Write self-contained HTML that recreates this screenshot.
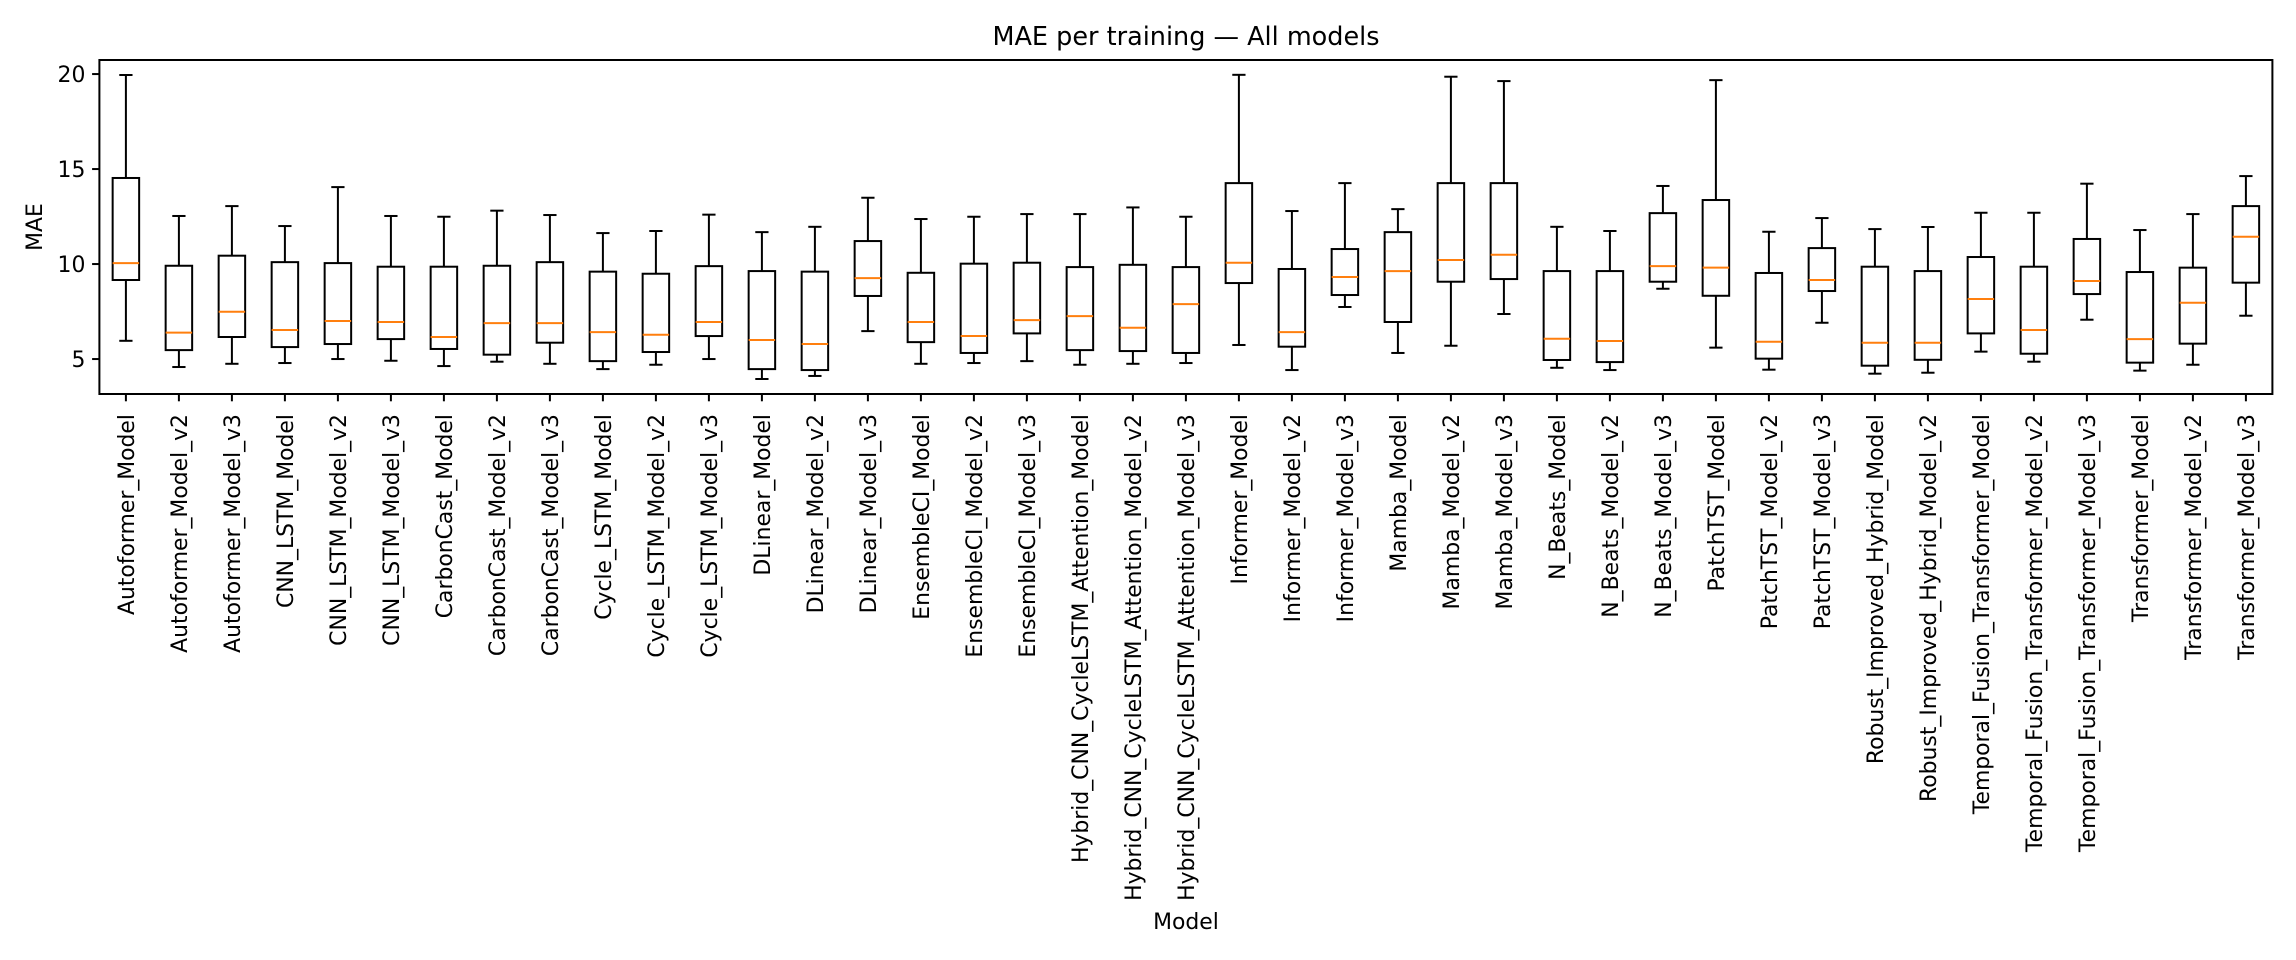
<!DOCTYPE html>
<html><head><meta charset="utf-8"><style>
html,body{margin:0;padding:0;background:#fff}
svg{display:block}
text{font-family:"DejaVu Sans","Liberation Sans",sans-serif;fill:#000}
</style></head><body>
<svg id="chart" width="2296" height="960" viewBox="0 0 2296 960" xmlns="http://www.w3.org/2000/svg">
<text x="1186" y="45" font-size="25.5" text-anchor="middle">MAE per training — All models</text>
<text x="1186" y="929" font-size="21.9" text-anchor="middle">Model</text>
<text transform="translate(42,227) rotate(-90)" font-size="21.9" text-anchor="middle">MAE</text>
<g id="marks"></g>
<rect x="99.4" y="60" width="2173" height="334" fill="none" stroke="#000" stroke-width="2"/>
</svg>
<script>
const categories = ["Autoformer_Model","Autoformer_Model_v2","Autoformer_Model_v3","CNN_LSTM_Model","CNN_LSTM_Model_v2","CNN_LSTM_Model_v3","CarbonCast_Model","CarbonCast_Model_v2","CarbonCast_Model_v3","Cycle_LSTM_Model","Cycle_LSTM_Model_v2","Cycle_LSTM_Model_v3","DLinear_Model","DLinear_Model_v2","DLinear_Model_v3","EnsembleCI_Model","EnsembleCI_Model_v2","EnsembleCI_Model_v3","Hybrid_CNN_CycleLSTM_Attention_Model","Hybrid_CNN_CycleLSTM_Attention_Model_v2","Hybrid_CNN_CycleLSTM_Attention_Model_v3","Informer_Model","Informer_Model_v2","Informer_Model_v3","Mamba_Model","Mamba_Model_v2","Mamba_Model_v3","N_Beats_Model","N_Beats_Model_v2","N_Beats_Model_v3","PatchTST_Model","PatchTST_Model_v2","PatchTST_Model_v3","Robust_Improved_Hybrid_Model","Robust_Improved_Hybrid_Model_v2","Temporal_Fusion_Transformer_Model","Temporal_Fusion_Transformer_Model_v2","Temporal_Fusion_Transformer_Model_v3","Transformer_Model","Transformer_Model_v2","Transformer_Model_v3"];
const whiskerHigh = [19.95,12.53,13.05,12.0,14.05,12.53,12.49,12.81,12.58,11.63,11.74,12.6,11.68,11.96,13.49,12.37,12.49,12.63,12.63,12.98,12.49,19.96,12.79,14.26,12.89,19.86,19.63,11.96,11.74,14.11,19.68,11.70,12.42,11.84,11.95,12.70,12.70,14.23,11.79,12.63,14.63];
const q3 = [14.53,9.91,10.44,10.1,10.05,9.86,9.86,9.91,10.1,9.6,9.49,9.89,9.63,9.6,11.21,9.54,10.02,10.07,9.84,9.96,9.84,14.26,9.74,10.79,11.68,14.26,14.26,9.63,9.63,12.68,13.37,9.53,10.84,9.86,9.63,10.37,9.86,11.32,9.58,9.81,13.05];
const medians = [10.05,6.39,7.49,6.53,7.0,6.95,6.16,6.89,6.89,6.42,6.28,6.95,6.0,5.79,9.26,6.95,6.21,7.05,7.26,6.65,7.89,10.07,6.42,9.32,9.63,10.21,10.49,6.07,5.95,9.89,9.81,5.91,9.16,5.86,5.86,8.16,6.53,9.11,6.05,7.96,11.44];
const q1 = [9.16,5.47,6.16,5.63,5.79,6.05,5.53,5.23,5.86,4.89,5.37,6.21,4.47,4.42,8.32,5.89,5.32,6.35,5.47,5.42,5.32,9.0,5.65,8.37,6.95,9.07,9.21,4.95,4.84,9.07,8.33,5.02,8.58,4.65,4.96,6.35,5.28,8.42,4.81,5.81,9.02];
const whiskerLow = [5.96,4.58,4.75,4.79,5.0,4.91,4.63,4.86,4.75,4.47,4.7,5.0,3.95,4.11,6.47,4.75,4.79,4.89,4.7,4.75,4.79,5.74,4.42,7.74,5.32,5.7,7.37,4.54,4.42,8.7,5.6,4.44,6.91,4.23,4.28,5.39,4.86,7.07,4.39,4.70,7.28];
const yTicks = [5,10,15,20];

const NS = "http://www.w3.org/2000/svg";
const L = 99.4, R = 2272.4, T = 60, B = 394;
const yMin = 3.16, yMax = 20.74;
const n = categories.length;
const step = (R - L) / n;
function xScale(i){ return L + (i + 0.5) * step; }
function yScale(v){ return B - (v - yMin) / (yMax - yMin) * (B - T); }
const g = document.getElementById('marks');
function mk(tag, attrs){ const e = document.createElementNS(NS, tag); for (const k in attrs) e.setAttribute(k, attrs[k]); g.appendChild(e); return e; }

yTicks.forEach(t => {
  const y = yScale(t);
  const tk = mk('line', {x1:L-7.3, x2:L, y1:y, y2:y, stroke:'#000', 'stroke-width':2});
  
  
  const tl = mk('text', {x:L-14, y:y+8, 'font-size':21.9, 'text-anchor':'end'});
  tl.textContent = t;
  
  
});

const bw = step * 0.5, cw = step * 0.25;
categories.forEach((c, i) => {
  const x = xScale(i);
  const grp = document.createElementNS(NS, 'g');
  
  
  g.appendChild(grp);
  const add = (tag, attrs) => { const e = document.createElementNS(NS, tag); for (const k in attrs) e.setAttribute(k, attrs[k]); grp.appendChild(e); return e; };
  const s = {stroke:'#000', 'stroke-width':2, fill:'none'};
  add('line', Object.assign({x1:x, x2:x, y1:yScale(q3[i]), y2:yScale(whiskerHigh[i])}, s));
  add('line', Object.assign({x1:x, x2:x, y1:yScale(q1[i]), y2:yScale(whiskerLow[i])}, s));
  add('line', Object.assign({x1:x-cw/2, x2:x+cw/2, y1:yScale(whiskerHigh[i]), y2:yScale(whiskerHigh[i])}, s));
  add('line', Object.assign({x1:x-cw/2, x2:x+cw/2, y1:yScale(whiskerLow[i]), y2:yScale(whiskerLow[i])}, s));
  add('rect', Object.assign({x:x-bw/2, y:yScale(q3[i]), width:bw, height:yScale(q1[i])-yScale(q3[i])}, s));
  add('line', {x1:x-bw/2, x2:x+bw/2, y1:yScale(medians[i]), y2:yScale(medians[i]), stroke:'#ff7f0e', 'stroke-width':2});
  const tk = mk('line', {x1:x, x2:x, y1:B, y2:B+7.3, stroke:'#000', 'stroke-width':2});
  
  
  const tl = mk('text', {transform:'translate(' + (x+8) + ',' + (B+20) + ') rotate(-90)', 'font-size':21.9, 'text-anchor':'end'});
  tl.textContent = c;
  
  
});
</script>
</body></html>
